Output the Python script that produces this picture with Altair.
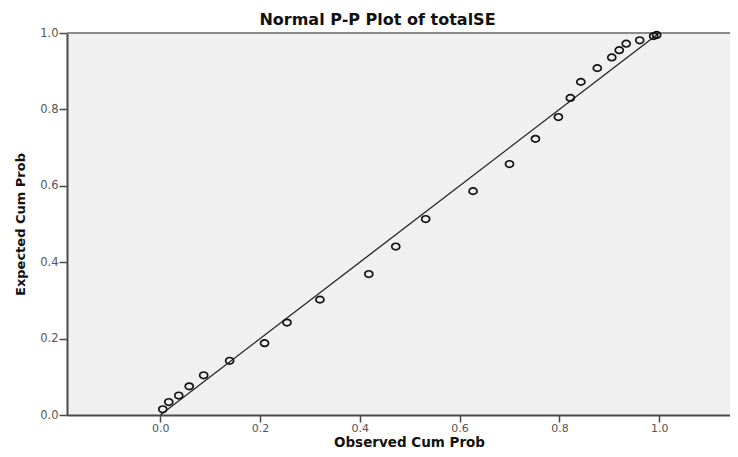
import altair as alt
import pandas as pd

# Observed vs expected cumulative probabilities
observed = [0.005, 0.017, 0.037, 0.058, 0.087, 0.139, 0.209, 0.254, 0.320,
            0.418, 0.472, 0.532, 0.627, 0.700, 0.752, 0.798, 0.822, 0.843,
            0.876, 0.905, 0.920, 0.934, 0.961, 0.989, 0.995]
expected = [0.015, 0.034, 0.051, 0.075, 0.104, 0.142, 0.188, 0.242, 0.302,
            0.369, 0.441, 0.513, 0.586, 0.657, 0.723, 0.780, 0.830, 0.872,
            0.908, 0.936, 0.955, 0.972, 0.981, 0.992, 0.995]
ref_x = [0.0, 1.0]
ref_y = [0.0, 1.0]
tick_values = [0.0, 0.2, 0.4, 0.6, 0.8, 1.0]

pts = pd.DataFrame({"obs": observed, "exp": expected})
ref = pd.DataFrame({"obs": ref_x, "exp": ref_y})
top = pd.DataFrame({"exp": [1.0]})

xscale = alt.Scale(domain=[-0.187, 1.142], nice=False, zero=False)
yscale = alt.Scale(domain=[0.0, 1.0], nice=False)

FONT = "DejaVu Sans"
AX = "#4a4a4a"

xaxis = alt.Axis(values=tick_values, format=".1f", grid=False,
                 title="Observed Cum Prob", titleFont=FONT, titleFontSize=13.5,
                 titleFontWeight="bold", titleColor="#111111",
                 titleX=342, titleY=31, titleAlign="center",
                 titleBaseline="alphabetic",
                 labelFont=FONT, labelFontSize=11, labelColor="#555555",
                 labelPadding=0, tickSize=7, tickColor=AX, tickWidth=1.5,
                 domainColor=AX, domainWidth=2)
yaxis = alt.Axis(values=tick_values, format=".1f", grid=False,
                 title="Expected Cum Prob", titleFont=FONT, titleFontSize=13,
                 titleFontWeight="bold", titleColor="#111111",
                 titleX=-47, titleY=191, titleAngle=270, titleAlign="center",
                 titleBaseline="middle",
                 labelFont=FONT, labelFontSize=11.5, labelColor="#555555",
                 labelPadding=1, tickSize=8, tickColor=AX, tickWidth=1.5,
                 domainColor=AX, domainWidth=2)

line = alt.Chart(ref).mark_line(color="#222222", strokeWidth=1.3, clip=True).encode(
    x=alt.X("obs:Q", scale=xscale, axis=xaxis),
    y=alt.Y("exp:Q", scale=yscale, axis=yaxis),
)

ellipse = "M -1 0 A 1 0.82 0 1 0 1 0 A 1 0.82 0 1 0 -1 0 Z"
points = alt.Chart(pts).mark_point(
    shape=ellipse, filled=False, stroke="#111111", strokeWidth=1.7,
    size=64, opacity=1
).encode(
    x=alt.X("obs:Q", scale=xscale),
    y=alt.Y("exp:Q", scale=yscale),
)

topline = alt.Chart(top).mark_rule(color="#8a8a8a", strokeWidth=2).encode(
    y=alt.Y("exp:Q", scale=yscale)
)

chart = alt.layer(topline, line, points).properties(
    width=663,
    height=382,
    background="white",
    autosize=alt.AutoSizeParams(type="none"),
    padding={"left": 59, "top": 25, "right": 0, "bottom": 34},
    title=alt.TitleParams(
        "Normal P-P Plot of totalSE", font=FONT, fontSize=16,
        fontWeight="bold", color="#111111", anchor="middle",
        frame="group", offset=5, dx=-21, dy=6
    ),
).configure_view(fill="#f0f0f0", stroke="transparent")

chart.save("out.html", embed_options={"renderer": "svg", "actions": False})
